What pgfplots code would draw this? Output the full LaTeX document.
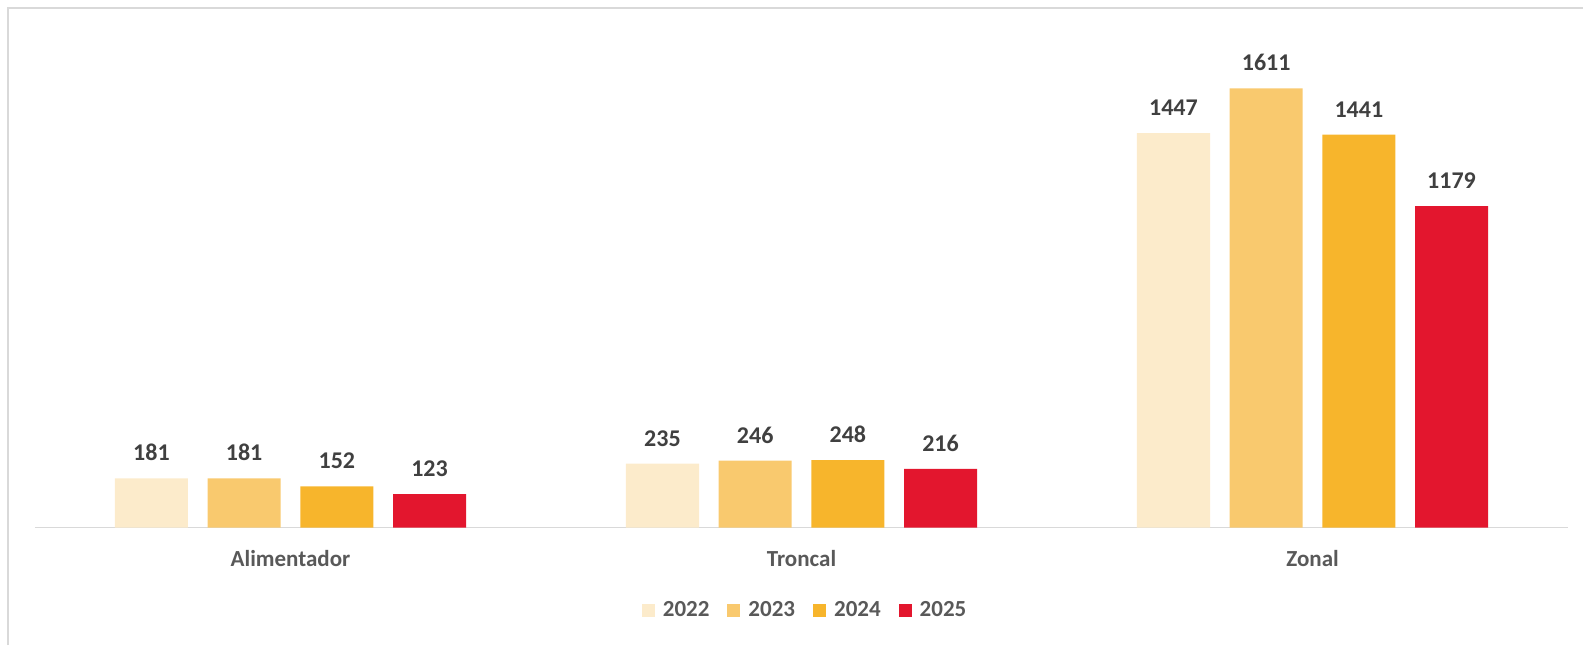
\documentclass[border=0pt]{standalone}
\usepackage{fontspec}
\setmainfont{Carlito}
\usepackage{pgfplots}
\pgfplotsset{compat=1.18}

\definecolor{c2022}{HTML}{FCEBCB}
\definecolor{c2023}{HTML}{F9C96E}
\definecolor{c2024}{HTML}{F7B52C}
\definecolor{c2025}{HTML}{E3162E}
\definecolor{labelgray}{HTML}{404040}
\definecolor{txtgray}{HTML}{595959}
\definecolor{linegray}{HTML}{D9D9D9}

% 1 px of the reference = 0.5pt
\begin{document}
\begin{tikzpicture}
    \useasboundingbox (-17.5pt,-58.65pt) rectangle (774pt,263.85pt);
    \draw[linegray, line width=1pt] (-13.5pt,-58.65pt) -- (-13.5pt,259.85pt) -- (774pt,259.85pt);
    \begin{axis}[
        at={(0,0)}, anchor=south west,
        scale only axis,
        width=766.5pt,
        height=245.5pt,
        ybar,
        bar width=0.143,
        xmin=-0.5, xmax=2.5,
        ymin=0, ymax=1800,
        hide y axis,
        axis x line=bottom,
        x axis line style={-, draw=linegray, line width=0.75pt},
        xtick={0,1,2},
        xticklabels={Alimentador, Troncal, Zonal},
        major tick length=0pt,
        xticklabel style={font=\fontsize{11.5}{13}\selectfont\bfseries, text=txtgray, inner sep=0pt, yshift=-11pt},
        nodes near coords={\pgfmathprintnumber[assume math mode=true, 1000 sep={}]{\pgfplotspointmeta}},
        every node near coord/.append style={font=\fontsize{12}{14}\selectfont\bfseries, text=labelgray, inner sep=0pt, yshift=8.5pt},
        legend columns=4,
        legend style={draw=none, at={(0.503,-0.1676)}, anchor=center,
            font=\fontsize{11.5}{13}\selectfont\bfseries, text=txtgray,
            column sep=2pt,
            /tikz/every even column/.append style={column sep=7pt}},
        legend image code/.code={\fill[#1] (0pt,-3.25pt) rectangle (6.5pt,3.25pt);},
    ]
        \addplot[fill=c2022, draw=none, bar shift=-0.2721] coordinates {(0,181) (1,235) (2,1447)};
        \addplot[fill=c2023, draw=none, bar shift=-0.0907] coordinates {(0,181) (1,246) (2,1611)};
        \addplot[fill=c2024, draw=none, bar shift=0.0907] coordinates {(0,152) (1,248) (2,1441)};
        \addplot[fill=c2025, draw=none, bar shift=0.2721] coordinates {(0,123) (1,216) (2,1179)};
        \legend{2022, 2023, 2024, 2025}
    \end{axis}
\end{tikzpicture}
\end{document}
